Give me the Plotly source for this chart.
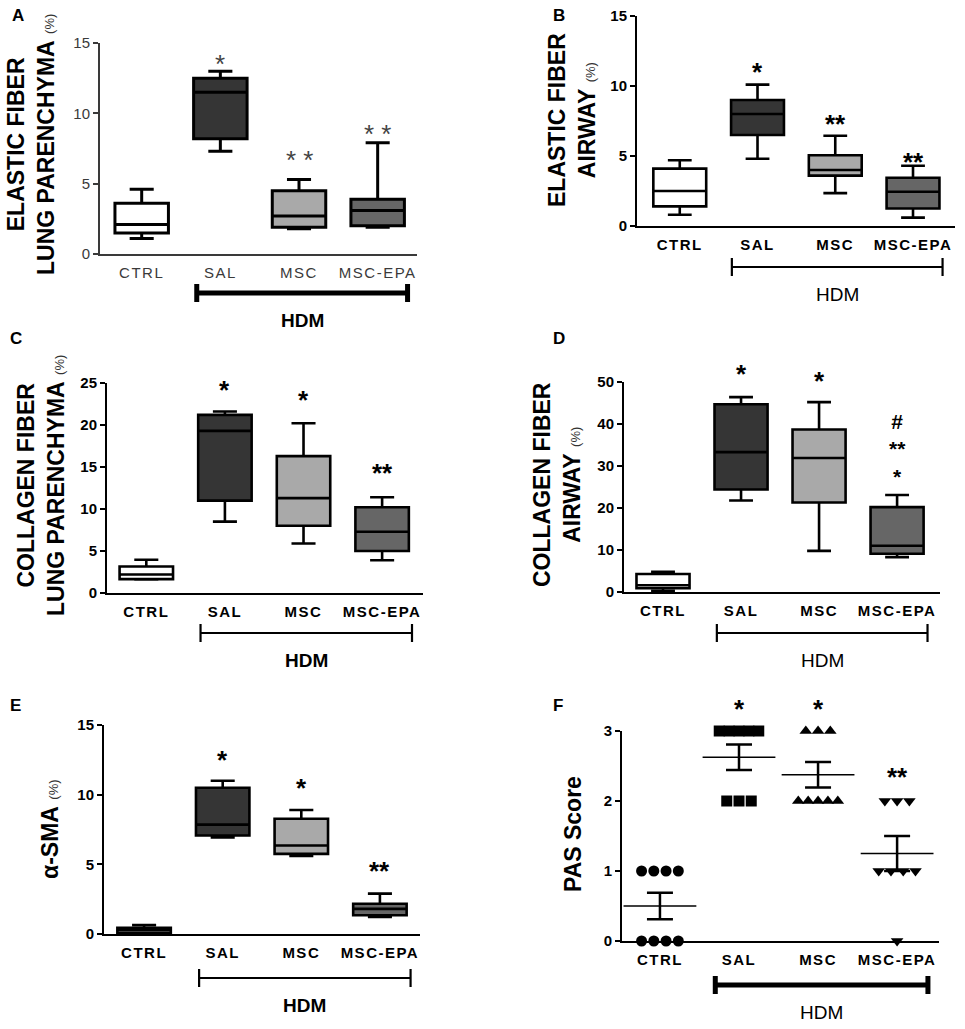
import numpy as np
import plotly.graph_objects as go

W, H = 965, 1029
FONT = "Liberation Sans, Arial, sans-serif"

categories = ["CTRL", "SAL", "MSC", "MSC-EPA"]
box_fill = ["#ffffff", "#353535", "#a9a9a9", "#666666"]

# A - elastic fiber, lung parenchyma (%)
a_min = [1.1, 7.3, 1.8, 1.9]
a_q1 = [1.5, 8.2, 1.9, 2.0]
a_med = [2.1, 11.5, 2.7, 3.1]
a_q3 = [3.6, 12.5, 4.5, 3.9]
a_max = [4.6, 13.0, 5.3, 7.9]
a_stars = ["", "*", "* *", "* *"]
a_star_y = [0, 14.0, 7.2, 9.0]

# B - elastic fiber, airway (%)
b_min = [0.8, 4.8, 2.35, 0.6]
b_q1 = [1.4, 6.5, 3.6, 1.25]
b_med = [2.5, 8.0, 4.0, 2.45]
b_q3 = [4.1, 9.0, 5.05, 3.45]
b_max = [4.7, 10.1, 6.45, 4.3]
b_stars = ["", "*", "**", "**"]
b_star_y = [0, 11.5, 7.8, 5.1]

# C - collagen fiber, lung parenchyma (%)
c_min = [1.6, 8.5, 5.9, 3.9]
c_q1 = [1.65, 11.0, 8.0, 5.0]
c_med = [2.2, 19.3, 11.3, 7.3]
c_q3 = [3.15, 21.2, 16.3, 10.2]
c_max = [3.95, 21.6, 20.2, 11.4]
c_stars = ["", "*", "*", "**"]
c_star_y = [0, 25.0, 23.8, 15.1]

# D - collagen fiber, airway (%)
d_min = [0.2, 21.8, 9.8, 8.3]
d_q1 = [0.9, 24.4, 21.3, 9.1]
d_med = [1.6, 33.3, 31.9, 11.0]
d_q3 = [4.3, 44.7, 38.7, 20.2]
d_max = [4.8, 46.4, 45.2, 23.1]
d_stars = ["", "*", "*", "#<br>**<br>*"]
d_star_y = [0, 53.6, 52.0, 35.3]

# E - alpha-SMA (%)
e_min = [0.05, 6.93, 5.6, 1.22]
e_q1 = [0.1, 7.07, 5.75, 1.35]
e_med = [0.3, 7.85, 6.35, 1.8]
e_q3 = [0.45, 10.5, 8.27, 2.17]
e_max = [0.65, 11.0, 8.9, 2.9]
e_stars = ["", "*", "*", "**"]
e_star_y = [0, 13.0, 11.0, 5.0]

# F - PAS score (individual animals)
pas_ctrl = [1, 1, 1, 1, 0, 0, 0, 0]
pas_sal = [3, 3, 3, 3, 3, 2, 2, 2]
pas_msc = [3, 3, 3, 2, 2, 2, 2, 2]
pas_epa = [2, 2, 2, 1, 1, 1, 1, 0]
f_stars = ["", "*", "*", "**"]
f_star_y = [0, 3.42, 3.42, 2.44]


def px(x, y):
    return x / W, 1 - y / H


fig = go.Figure()
yranges = {}


def spaced(t):
    return "<span style='letter-spacing:1.5px'>" + t + "</span>"


def add_axes(n, xpx, ypx, xr, yr, ytickvals, light=False):
    color = "#3a3a3a" if light else "black"
    tf = dict(family=FONT, size=15, color=color, weight="normal" if light else "bold")
    x0, _ = px(xpx[0], 0)
    x1, _ = px(xpx[1], 0)
    _, y0 = px(0, ypx[1])
    _, y1 = px(0, ypx[0])
    sfx = "" if n == 1 else str(n)
    yranges[n] = yr
    fig.layout["xaxis" + sfx] = dict(
        domain=[x0, x1], range=xr, anchor="y" + sfx, tickvals=[0, 1, 2, 3],
        ticktext=[spaced(c) for c in categories], showline=True, linecolor=color,
        linewidth=2, ticks="", ticklen=0, showgrid=False, zeroline=False,
        tickfont=tf, ticklabelstandoff=4, automargin=False, fixedrange=True)
    fig.layout["yaxis" + sfx] = dict(
        domain=[y0, y1], range=yr, anchor="x" + sfx, tickvals=ytickvals,
        showline=True, linecolor=color, linewidth=2, ticks="outside", ticklen=5,
        tickwidth=2, tickcolor=color, showgrid=False, zeroline=False, tickfont=tf,
        automargin=False, fixedrange=True)


def add_boxes(n, mins, q1, med, q3, maxs, lw=2.6):
    sfx = "" if n == 1 else str(n)
    for i, cat in enumerate(categories):
        fig.add_trace(go.Box(
            x=[i], q1=[q1[i]], median=[med[i]], q3=[q3[i]],
            lowerfence=[mins[i]], upperfence=[maxs[i]],
            fillcolor=box_fill[i], line=dict(color="black", width=lw),
            width=0.68, whiskerwidth=0.45, boxpoints=False,
            xaxis="x" + sfx, yaxis="y" + sfx, showlegend=False, name=cat))


def add_stars(n, texts, ys, light=False):
    # domain-relative y so marks above the axis range stay visible
    sfx = "" if n == 1 else str(n)
    lo, hi = yranges[n]
    for i, t in enumerate(texts):
        if not t:
            continue
        multi = "<br>" in t
        fig.add_annotation(
            x=i, y=(ys[i] - lo) / (hi - lo), xref="x" + sfx,
            yref="y" + sfx + " domain", text=t, showarrow=False,
            xanchor="center", yanchor="middle", yshift=-5 if multi else -7,
            font=dict(family=FONT, size=21 if multi else 26,
                      color="#444444" if light else "black",
                      weight="normal" if light else "bold"))


def add_hdm(n, ypx, xa, xb, thick=False, bold=True):
    sfx = "" if n == 1 else str(n)
    _, yl = px(0, ypx)
    cap = 9 / H
    lw = 5 if thick else 2.2
    fig.add_shape(type="line", xref="x" + sfx, yref="paper", x0=xa, x1=xb,
                  y0=yl, y1=yl, line=dict(color="black", width=lw))
    for xc in (xa, xb):
        fig.add_shape(type="line", xref="x" + sfx, yref="paper", x0=xc, x1=xc,
                      y0=yl - cap, y1=yl + cap, line=dict(color="black", width=lw))
    fig.add_annotation(x=(xa + xb) / 2, y=yl - 27 / H, xref="x" + sfx, yref="paper",
                       text="HDM", showarrow=False, xanchor="center", yanchor="middle",
                       font=dict(family=FONT, size=19, color="black",
                                 weight="bold" if bold else "normal"))


def add_title(cx, cy, text, size=23):
    x, y = px(cx, cy)
    fig.add_annotation(x=x, y=y, xref="paper", yref="paper", text=text,
                       textangle=-90, showarrow=False, xanchor="center",
                       yanchor="middle", align="center",
                       font=dict(family=FONT, size=size, color="black"))


def add_label(cx, cy, t):
    x, y = px(cx, cy)
    fig.add_annotation(x=x, y=y, xref="paper", yref="paper", text="<b>" + t + "</b>",
                       showarrow=False, xanchor="left", yanchor="middle",
                       font=dict(family=FONT, size=17, color="black"))


pct = " <span style='font-size:13px;font-weight:normal;color:#333'>(%)</span>"

# A
add_axes(1, (100, 417), (43, 254), [-0.53, 3.5], [0, 15], [0, 5, 10, 15], light=True)
add_boxes(1, a_min, a_q1, a_med, a_q3, a_max, lw=3)
add_stars(1, a_stars, a_star_y, light=True)
add_hdm(1, 293, 0.70, 3.38, thick=True)
add_title(31, 145, "<b>ELASTIC FIBER</b><br><b>LUNG PARENCHYMA</b>" + pct)
add_label(10, 16, "A")

# B
add_axes(2, (637, 955), (16, 226), [-0.55, 3.54], [0, 15], [0, 5, 10, 15])
add_boxes(2, b_min, b_q1, b_med, b_q3, b_max)
add_stars(2, b_stars, b_star_y)
add_hdm(2, 267, 0.67, 3.38, bold=False)
add_title(572, 120, "<b>ELASTIC FIBER</b><br><b>AIRWAY</b>" + pct)
add_label(551, 16, "B")

# C
add_axes(3, (107, 423), (383, 593), [-0.5, 3.52], [0, 25], [0, 5, 10, 15, 20, 25])
add_boxes(3, c_min, c_q1, c_med, c_q3, c_max)
add_stars(3, c_stars, c_star_y)
add_hdm(3, 633, 0.69, 3.38)
add_title(41, 486, "<b>COLLAGEN FIBER</b><br><b>LUNG PARENCHYMA</b>" + pct)
add_label(8, 338, "C")

# D
add_axes(4, (624, 940), (382, 592), [-0.5, 3.55], [0, 50], [0, 10, 20, 30, 40, 50])
add_boxes(4, d_min, d_q1, d_med, d_q3, d_max)
add_stars(4, d_stars, d_star_y)
add_hdm(4, 633, 0.69, 3.39, bold=False)
add_title(557, 485, "<b>COLLAGEN FIBER</b><br><b>AIRWAY</b>" + pct)
add_label(551, 338, "D")

# E
add_axes(5, (104, 420), (725, 934), [-0.51, 3.51], [0, 15], [0, 5, 10, 15])
add_boxes(5, e_min, e_q1, e_med, e_q3, e_max)
add_stars(5, e_stars, e_star_y)
add_hdm(5, 978, 0.70, 3.39)
add_title(50, 829, "<b>α-SMA</b>" + pct)
add_label(8, 705, "E")

# F
add_axes(6, (622, 939), (731, 941), [-0.48, 3.53], [0, 3], [0, 1, 2, 3])
pas_groups = [pas_ctrl, pas_sal, pas_msc, pas_epa]
symbols = ["circle", "square", "triangle-up", "triangle-down"]
for i, vals in enumerate(pas_groups):
    xs, ys = [], []
    for v in sorted(set(vals), reverse=True):
        cnt = vals.count(v)
        sp = 0.155 if cnt <= 4 else 0.125
        for k in range(cnt):
            xs.append(i + (k - (cnt - 1) / 2) * sp)
            ys.append(v)
    fig.add_trace(go.Scatter(
        x=xs, y=ys, mode="markers", xaxis="x6", yaxis="y6", cliponaxis=False,
        marker=dict(symbol=symbols[i], size=11, color="black"), showlegend=False))
    arr = np.array(vals, dtype=float)
    mean = arr.mean()
    sem = arr.std(ddof=1) / np.sqrt(len(arr))
    fig.add_trace(go.Scatter(
        x=[i], y=[mean], mode="markers", xaxis="x6", yaxis="y6", cliponaxis=False,
        marker=dict(symbol="line-ew", size=52, line=dict(color="black", width=1.5)),
        error_y=dict(type="data", array=[sem], width=13, thickness=2.5, color="black"),
        showlegend=False))
add_stars(6, f_stars, f_star_y)
add_hdm(6, 985, 0.70, 3.39, thick=True, bold=False)
add_title(573, 834, "<b>PAS Score</b>")
add_label(551, 705, "F")

fig.update_layout(
    width=W, height=H, margin=dict(l=0, r=0, t=0, b=0, autoexpand=False),
    paper_bgcolor="white", plot_bgcolor="white", showlegend=False,
    font=dict(family=FONT, color="black"))

fig.write_html("out.html", config={"displayModeBar": False},
               post_script="document.body.style.margin='0';"
                           "document.body.style.overflow='hidden';")
